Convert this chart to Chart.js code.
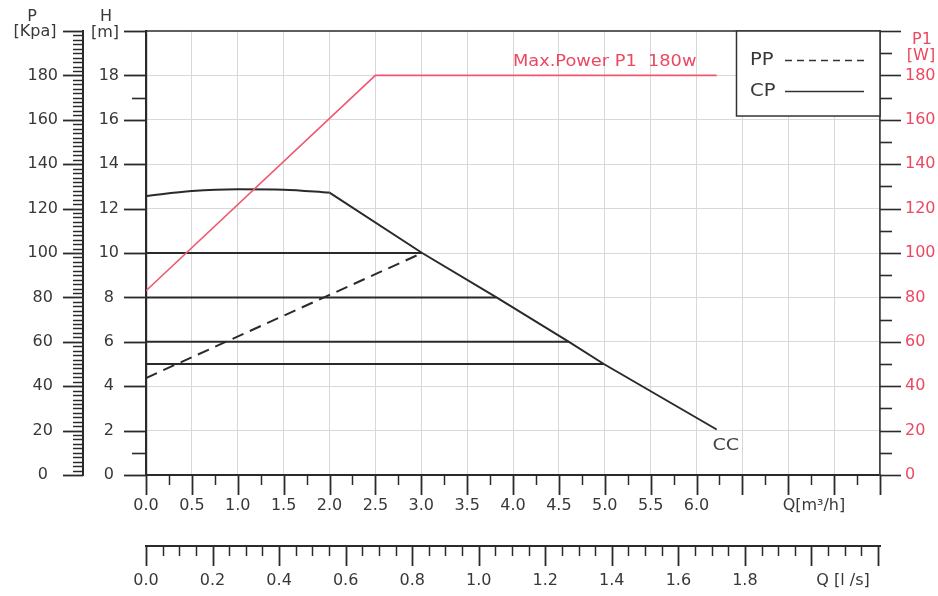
<!DOCTYPE html>
<html><head><meta charset="utf-8">
<script src="https://cdn.jsdelivr.net/npm/chart.js@4.4.1/dist/chart.umd.min.js"></script>
<style>html,body{margin:0;padding:0;background:#fff;}canvas{display:block;}</style>
</head><body>
<canvas id="c" width="938" height="596"></canvas>
<script>
// ---------- axis ticks & labels ----------
const qMajorTicks = [0,0.5,1,1.5,2,2.5,3,3.5,4,4.5,5,5.5,6,6.5,7,7.5,8];
const qTickLabels = ['0.0','0.5','1.0','1.5','2.0','2.5','3.0','3.5','4.0','4.5','5.0','5.5','6.0'];
const qAxisTitle = 'Q[m\u00B3/h]';
const qAxisTitleAt = 7.28;
const lsMajorTicks = [0,0.2,0.4,0.6,0.8,1.0,1.2,1.4,1.6,1.8,2.0,2.2];
const lsTickLabels = ['0.0','0.2','0.4','0.6','0.8','1.0','1.2','1.4','1.6','1.8'];
const lsAxisTitle = 'Q [l /s]';
const lsAxisTitleAt = 2.095;
const hMajorTicks = [0,2,4,6,8,10,12,14,16,18,20];
const hTickLabels = ['0','2','4','6','8','10','12','14','16','18'];
const hMinorTicks = [1,17];
const kpaMajorTicks = [0,20,40,60,80,100,120,140,160,180,200];
const kpaTickLabels = ['0','20','40','60','80','100','120','140','160','180'];
const wMajorTicks = [0,20,40,60,80,100,120,140,160,180,200];
const wTickLabels = ['0','20','40','60','80','100','120','140','160','180'];
const legendLabels = ['PP','CP'];

// ---------- series ----------
const powerQ = [0, 2.5, 6.22];
const powerW = [83, 180, 180];
const cpCurveQ = [0, 0.5, 1.0, 1.5, 2.0];
const cpCurveH = [12.57, 12.79, 12.87, 12.85, 12.72];
const cpFallQ = [2.0, 3.01, 3.82, 4.61, 4.99, 6.22];
const cpFallH = [12.72, 10.0, 8.0, 6.0, 5.0, 2.05];
const cpLevelH = [10, 8, 6, 5];
const cpLevelEndQ = [3.01, 3.82, 4.61, 4.99];
const ppQ = [0, 3.01];
const ppH = [4.37, 10.0];

const FONT = 'DejaVu Sans';
const TXT = '#383838';
const RED = '#ec4862';
const REDLINE = '#ef5870';
const INK = '#2a2a2a';
const GRID = '#d8d8d8';

const zip = (xs, ys) => xs.map((v, i) => ({x: v, y: ys[i]}));
const near = (a, b) => Math.abs(a - b) < 1e-6;

const datasets = [
  {label:'P1', data: zip(powerQ, powerW), yAxisID:'yW', borderColor: REDLINE, borderWidth:1.6},
  {label:'CP', data: zip(cpCurveQ, cpCurveH), yAxisID:'y', borderColor: INK, borderWidth:2, tension:0.4, cubicInterpolationMode:'monotone'},
  {label:'CP', data: zip(cpFallQ, cpFallH), yAxisID:'y', borderColor: INK, borderWidth:2},
  {label:'PP', data: zip(ppQ, ppH), yAxisID:'y', borderColor: INK, borderWidth:2, borderDash:[12,7]}
];
cpLevelH.forEach((h, i) => datasets.push({label:'CP', data: zip([0, cpLevelEndQ[i]], [h, h]), yAxisID:'y', borderColor: INK, borderWidth:2}));
datasets.forEach(d => { d.showLine = true; d.pointRadius = 0; d.fill = false; d.xAxisID = 'x'; });

const setTicks = arr => scale => { scale.ticks = arr.map(v => ({value: v})); };
const fitTo = (w, h) => s => {
  if (w !== null) s.width = w;
  if (h !== null) s.height = h;
  s.paddingTop = 0; s.paddingBottom = 0; s.paddingLeft = 0; s.paddingRight = 0;
};

const qAllTicks = [];
for (let i = 0; i <= 32; i++) qAllTicks.push(i * 0.25);
qAllTicks.splice(30, 0, qAxisTitleAt);

function drawText(ctx, s, x, y, font, color, align, sx) {
  ctx.save();
  ctx.font = font; ctx.fillStyle = color; ctx.textAlign = align; ctx.textBaseline = 'middle';
  ctx.translate(x, y); ctx.scale(sx || 1, 1); ctx.fillText(s, 0, 0);
  ctx.restore();
}

const decor = {
  id: 'decor',
  afterDatasetsDraw(chart) {
    const ctx = chart.ctx;
    const {x, x2, y, yP, yW} = chart.scales;
    const a = chart.chartArea;
    ctx.save();
    ctx.strokeStyle = INK;
    ctx.lineCap = 'butt';
    const ln = (x1, y1, xb, yb, w) => { ctx.lineWidth = w; ctx.beginPath(); ctx.moveTo(x1, y1); ctx.lineTo(xb, yb); ctx.stroke(); };

    // top frame
    ln(a.left, a.top, a.right, a.top, 1.5);

    // kPa axis ticks (left of its line)
    const kx = yP.right;
    for (let v = 0; v <= 200; v += 2) {
      const py = Math.round(yP.getPixelForValue(v)) + 0.5;
      const major = v % 20 === 0;
      ln(kx - (major ? 20 : 10), py, kx, py, major ? 1.8 : 1.5);
    }
    // H axis ticks
    const hx = y.right;
    hMajorTicks.forEach(v => { const py = Math.round(y.getPixelForValue(v)) + 0.5; ln(hx - 22, py, hx, py, 1.8); });
    hMinorTicks.forEach(v => { const py = Math.round(y.getPixelForValue(v)) + 0.5; ln(hx - 14, py, hx, py, 1.6); });
    // W axis ticks
    const wx = yW.left;
    for (let v = 0; v <= 200; v += 10) {
      const py = Math.round(yW.getPixelForValue(v)) + 0.5;
      const major = v % 20 === 0;
      ln(wx, py, wx + (major ? 21 : 12), py, 1.6);
    }
    // Q m3/h ticks
    const qy = x.top;
    for (let i = 0; i <= 32; i++) {
      const v = i * 0.25;
      const px = Math.round(x.getPixelForValue(v)) + 0.5;
      const major = i % 2 === 0;
      ln(px, qy, px, qy + (major ? 20 : 10), major ? 1.8 : 1.5);
    }
    // Q l/s ticks
    const ly = x2.top;
    for (let i = 0; i <= 44; i++) {
      const v = i * 0.05;
      const px = Math.round(x2.getPixelForValue(v)) + 0.5;
      const major = i % 4 === 0;
      ln(px, ly, px, ly + (major ? 20 : 10), major ? 1.8 : 1.5);
    }

    // legend box
    const lx0 = 736, ly0 = a.top, lx1 = a.right, ly1 = 116;
    ctx.fillStyle = '#fff';
    ctx.fillRect(lx0, ly0, lx1 - lx0, ly1 - ly0);
    ctx.strokeStyle = '#333';
    ctx.lineWidth = 1.5;
    ctx.strokeRect(lx0 + 0.5, ly0, lx1 - lx0 - 0.5, ly1 - ly0);
    drawText(ctx, legendLabels[0], 750, 61, '17px ' + FONT, TXT, 'left', 1.15);
    drawText(ctx, legendLabels[1], 750, 92, '17px ' + FONT, TXT, 'left', 1.15);
    ctx.strokeStyle = '#333';
    ctx.setLineDash([7, 5]);
    ln(785, 60.5, 864, 60.5, 1.5);
    ctx.setLineDash([]);
    ln(785, 91.5, 864, 91.5, 1.5);

    // annotations
    drawText(ctx, 'Max.Power P1  180w', x.getPixelForValue(4.0), yW.getPixelForValue(186), '16px ' + FONT, RED, 'left', 1.11);
    drawText(ctx, 'CC', x.getPixelForValue(6.32), y.getPixelForValue(1.3), '16px ' + FONT, '#444', 'center', 1.2);

    // axis titles
    drawText(ctx, 'P', 32, 17, '16px ' + FONT, TXT, 'center');
    drawText(ctx, '[Kpa]', 35, 32, '16px ' + FONT, TXT, 'center');
    drawText(ctx, 'H', 106, 17, '16px ' + FONT, TXT, 'center');
    drawText(ctx, '[m]', 105, 33, '16px ' + FONT, TXT, 'center');
    drawText(ctx, 'P1', 922, 40, '16px ' + FONT, RED, 'center');
    drawText(ctx, '[W]', 921, 56, '16px ' + FONT, RED, 'center');
    ctx.restore();
  }
};

const tickFont = {family: FONT, size: 16};

new Chart(document.getElementById('c'), {
  type: 'scatter',
  data: {datasets},
  options: {
    responsive: false,
    animation: false,
    layout: {padding: {top: 31, left: 0, right: 0, bottom: 0}},
    plugins: {legend: {display: false}, tooltip: {enabled: false}},
    scales: {
      x: {
        type: 'linear', position: 'bottom', weight: 0, min: 0, max: 8,
        afterBuildTicks: setTicks(qAllTicks),
        afterFit: fitTo(null, 71),
        ticks: {
          autoSkip: false, maxRotation: 0, padding: 21, color: TXT, font: tickFont,
          callback: v => {
            if (near(v, qAxisTitleAt)) return qAxisTitle;
            const i = Math.round(v / 0.5);
            return (near(v, i * 0.5) && i < qTickLabels.length) ? qTickLabels[i] : '';
          }
        },
        grid: {
          drawTicks: false, lineWidth: 1,
          color: c => {
            const v = c.tick ? c.tick.value : -1;
            const i = Math.round(v / 0.5);
            return (near(v, i * 0.5) && v > 0 && v < 8) ? GRID : 'rgba(0,0,0,0)';
          }
        },
        border: {display: true, color: INK, width: 2}
      },
      x2: {
        type: 'linear', position: 'bottom', weight: 10, min: 0, max: 2.206,
        afterBuildTicks: setTicks([...lsMajorTicks.slice(0, lsTickLabels.length), lsAxisTitleAt]),
        afterFit: fitTo(null, 50),
        ticks: {
          autoSkip: false, maxRotation: 0, padding: 25, color: TXT, font: tickFont,
          callback: (v, i) => i < lsTickLabels.length ? lsTickLabels[i] : lsAxisTitle
        },
        grid: {display: false, drawTicks: false},
        border: {display: true, color: INK, width: 2}
      },
      y: {
        type: 'linear', position: 'left', weight: 0, min: 0, max: 20,
        afterBuildTicks: setTicks([0,1,2,3,4,5,6,7,8,9,10,11,12,13,14,15,16,17,18,19,20]),
        afterFit: fitTo(63, null),
        ticks: {
          autoSkip: false, crossAlign: 'center', padding: 27, color: TXT, font: tickFont,
          callback: v => { const i = hMajorTicks.indexOf(v); return i >= 0 && i < hTickLabels.length ? hTickLabels[i] : ''; }
        },
        grid: {
          drawTicks: false, lineWidth: 1,
          color: c => { const v = c.tick ? c.tick.value : -1; return (v % 2 === 0 && v > 0 && v < 20) ? GRID : 'rgba(0,0,0,0)'; }
        },
        border: {display: true, color: INK, width: 2.2}
      },
      yP: {
        type: 'linear', position: 'left', weight: 10, min: 0, max: 200,
        afterBuildTicks: setTicks(kpaMajorTicks),
        afterFit: fitTo(83, null),
        ticks: {
          autoSkip: false, crossAlign: 'center', padding: 25, color: TXT, font: tickFont,
          callback: (v, i) => i < kpaTickLabels.length ? kpaTickLabels[i] : ''
        },
        grid: {display: false, drawTicks: false},
        border: {display: true, color: INK, width: 2}
      },
      yW: {
        type: 'linear', position: 'right', min: 0, max: 200,
        afterBuildTicks: setTicks(wMajorTicks),
        afterFit: fitTo(58, null),
        ticks: {
          autoSkip: false, padding: 25, color: RED, font: tickFont,
          callback: (v, i) => i < wTickLabels.length ? wTickLabels[i] : ''
        },
        grid: {display: false, drawTicks: false},
        border: {display: true, color: '#444', width: 1.8}
      }
    }
  },
  plugins: [decor]
});
</script>
</body></html>
